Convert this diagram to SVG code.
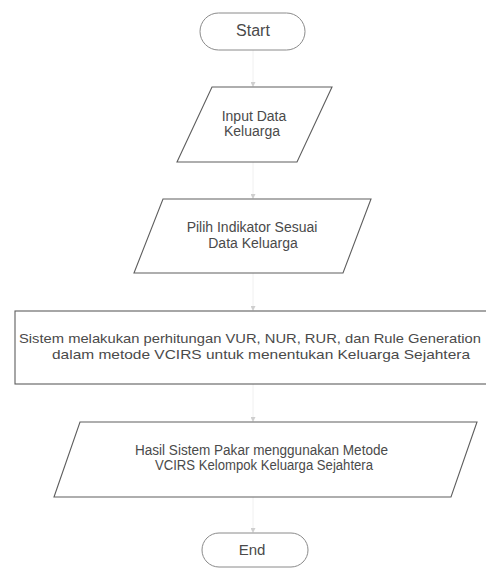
<svg xmlns="http://www.w3.org/2000/svg" width="486" height="568" viewBox="0 0 486 568">
  <style>
    .term { fill: #ffffff; stroke: #8a8a8a; stroke-width: 1; }
    .box { fill: #ffffff; stroke: #5e5e5e; stroke-width: 1.1; }
    .lbl { font-family: "Liberation Sans", Arial, sans-serif; fill: #4a4a4a; }
    .t-term { font-size: 16px; text-anchor: middle; }
    .t-box { font-size: 14px; text-anchor: middle; }
    .t-rect { font-size: 13.5px; }
    .flow { stroke: #f0f0f0; stroke-width: 1; fill: none; marker-end: url(#tip); }
  </style>
  <defs>
    <marker id="tip" markerWidth="5" markerHeight="5" refX="4" refY="2.5" orient="auto" markerUnits="userSpaceOnUse">
      <path d="M0,0 L5,2.5 L0,5 z" fill="#cfcfcf"/>
    </marker>
  </defs>
  <rect width="486" height="568" fill="#ffffff"/>

  <!-- connectors -->
  <g id="connectors">
    <line class="flow" x1="253" y1="50" x2="253" y2="86"/>
    <line class="flow" x1="253" y1="162" x2="253" y2="198"/>
    <line class="flow" x1="253" y1="273" x2="253" y2="310"/>
    <line class="flow" x1="253" y1="384" x2="253" y2="421"/>
    <line class="flow" x1="253" y1="497" x2="253" y2="532"/>
  </g>

  <!-- start terminator -->
  <g id="start">
    <rect class="term" x="200" y="13" width="105" height="37" rx="18.5" ry="18.5"/>
    <text class="lbl t-term" x="253" y="36">Start</text>
  </g>

  <!-- input data -->
  <g id="input-data">
    <polygon class="box" points="212,87 332,87 297,162 177,162"/>
    <text class="lbl t-box" x="254" y="121">Input Data</text>
    <text class="lbl t-box" x="252" y="136">Keluarga</text>
  </g>

  <!-- choose indicator -->
  <g id="pilih-indikator">
    <polygon class="box" points="163,199 371,199 343,273 134,273"/>
    <text class="lbl t-box" x="252" y="232">Pilih Indikator Sesuai</text>
    <text class="lbl t-box" x="253" y="248">Data Keluarga</text>
  </g>

  <!-- process -->
  <g id="proses-vcirs">
    <rect class="box" x="15" y="311" width="476" height="73"/>
    <text class="lbl t-rect" x="19" y="343" textLength="462" lengthAdjust="spacingAndGlyphs">Sistem melakukan perhitungan VUR, NUR, RUR, dan Rule Generation</text>
    <text class="lbl t-rect" x="52" y="359" textLength="418" lengthAdjust="spacingAndGlyphs">dalam metode VCIRS untuk menentukan Keluarga Sejahtera</text>
  </g>

  <!-- result -->
  <g id="hasil">
    <polygon class="box" points="80,422 477,422 451,497 54,497"/>
    <text class="lbl t-box" x="135" y="455" style="text-anchor:start" textLength="253" lengthAdjust="spacingAndGlyphs">Hasil Sistem Pakar menggunakan Metode</text>
    <text class="lbl t-box" x="155" y="470" style="text-anchor:start" textLength="218" lengthAdjust="spacingAndGlyphs">VCIRS Kelompok Keluarga Sejahtera</text>
  </g>

  <!-- end terminator -->
  <g id="end">
    <rect class="term" x="202" y="533" width="106" height="34" rx="17" ry="17"/>
    <text class="lbl t-term" x="252" y="555" style="font-size:15px">End</text>
  </g>
</svg>
